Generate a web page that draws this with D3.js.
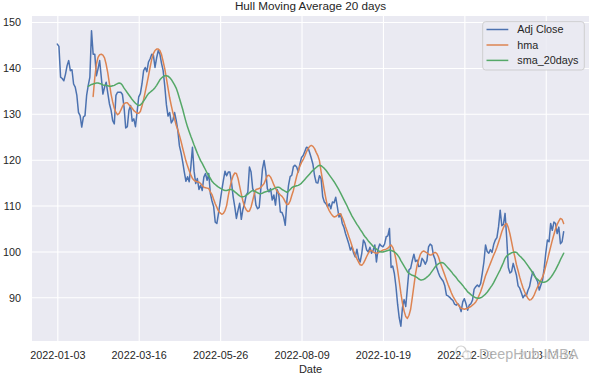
<!DOCTYPE html>
<html><head><meta charset="utf-8">
<script src="https://cdn.jsdelivr.net/npm/d3@7"></script>
<style>body{margin:0;background:#fff} text{font-family:"Liberation Sans",Arial,sans-serif}</style>
</head><body><svg id="c" width="596" height="380"></svg>
<script>
const adjClose=[
145.2,144.7,138.0,137.7,137.2,138.6,140.5,141.6,139.4,139.6,
136.5,135.8,134.0,130.3,129.6,127.1,129.3,129.6,134.0,136.2,
138.0,148.1,143.0,143.0,138.3,139.8,141.6,138.0,134.3,135.8,
136.9,134.5,132.2,130.8,128.5,127.8,134.0,134.7,134.7,134.7,
134.2,131.4,126.9,127.2,130.8,131.8,128.4,128.9,127.2,130.4,
133.7,134.4,136.5,139.4,140.1,139.2,141.3,142.0,143.0,142.8,
140.1,142.2,143.8,143.0,141.0,139.4,136.0,132.0,129.5,130.3,
128.0,128.6,130.3,128.6,126.4,123.0,121.5,119.5,117.3,115.3,
116.3,115.2,118.4,122.7,117.5,114.8,115.9,113.5,114.4,113.3,
116.2,117.0,115.5,117.0,112.6,111.0,109.8,106.4,106.1,108.3,
110.8,113.3,115.5,117.5,116.5,117.3,117.3,115.0,111.9,109.7,
107.2,109.0,110.5,107.0,109.2,110.4,112.3,112.9,118.4,117.3,
113.7,113.0,110.1,109.3,109.6,113.7,118.0,119.8,117.5,113.7,
113.0,113.7,111.2,112.3,110.1,113.5,112.5,108.6,108.5,107.5,
105.7,111.0,114.4,116.3,116.6,118.5,118.8,118.4,117.3,119.1,
120.5,120.9,121.8,122.7,122.6,121.5,120.3,119.0,116.5,115.0,
114.9,116.5,115.9,111.9,110.8,110.4,109.7,110.4,109.3,110.8,
110.6,111.8,109.7,107.5,108.2,106.1,105.3,103.9,102.8,101.7,
100.3,101.0,99.6,98.8,100.5,98.5,97.7,99.6,102.5,101.8,
100.3,99.9,100.9,99.6,100.3,101.4,97.7,100.5,101.6,101.2,
101.0,101.6,103.2,103.4,105.0,96.5,96.8,95.2,92.3,88.5,
85.5,83.7,87.8,89.5,88.0,92.0,96.0,96.3,98.0,99.4,
97.8,98.1,96.7,96.8,98.5,98.0,97.2,98.0,101.0,101.6,
101.3,99.2,98.3,96.5,95.4,94.5,94.0,93.5,92.5,90.5,
90.3,90.0,89.6,89.3,88.5,88.3,88.6,88.1,86.9,89.0,
89.7,88.6,87.2,88.3,88.6,89.4,91.8,92.3,92.7,92.3,
93.0,95.2,97.7,101.4,100.0,99.6,100.4,99.8,101.5,102.5,
103.0,105.4,109.0,105.6,105.9,108.3,103.0,96.5,95.3,95.6,
97.4,96.1,94.8,92.5,92.0,91.0,89.9,90.5,90.3,91.5,
92.3,94.1,95.6,94.8,94.1,93.4,91.6,92.7,93.7,96.3,
99.6,102.5,102.1,106.1,104.6,106.4,106.1,103.9,105.3,101.7,
102.1,104.3];

const hmaStart=22;
const hma=[
133.8,137.8,140.8,142.3,142.9,143.0,142.8,142.2,
140.8,138.9,136.6,134.3,132.6,131.2,130.3,129.8,130.1,130.8,
131.6,132.2,132.4,132.4,132.0,131.6,131.2,130.7,130.4,130.1,
130.1,130.5,131.7,133.1,134.8,136.5,138.3,140.2,141.9,143.1,
143.8,144.1,144.1,143.8,142.9,141.4,139.8,137.7,135.6,133.5,
131.8,130.2,128.9,127.5,126.5,125.3,124.0,122.5,121.1,119.7,
118.6,117.6,116.7,115.9,115.5,115.3,115.2,115.1,114.8,114.4,
114.0,113.9,113.8,113.7,113.0,112.4,111.4,110.4,109.6,108.8,
108.4,108.1,108.3,108.9,110.0,112.1,113.9,115.4,116.5,117.1,
117.0,115.9,114.2,112.5,111.0,109.8,109.1,108.7,108.8,109.7,
111.1,112.6,113.5,113.6,113.7,114.0,114.4,114.8,115.7,116.5,
116.6,116.2,115.4,114.5,113.8,113.1,112.7,112.3,112.0,111.5,
110.8,110.2,110.3,111.0,112.2,113.3,114.9,116.4,117.6,118.6,
119.4,120.0,120.8,121.7,122.4,122.9,123.1,122.9,122.4,121.6,
120.9,119.8,117.4,115.4,113.3,111.4,109.7,108.9,108.3,107.8,
107.5,107.6,107.9,108.2,108.2,107.4,106.5,105.4,104.4,103.3,
102.3,101.2,100.1,99.2,98.4,97.7,97.1,97.0,97.4,98.1,
98.9,99.6,100.2,100.2,99.9,99.7,99.6,99.7,99.9,100.1,
100.3,100.4,100.5,100.7,101.1,101.4,100.9,99.9,98.2,96.0,
93.5,90.9,88.7,87.0,85.8,85.4,86.1,87.4,89.9,92.5,
95.1,97.0,98.3,99.4,99.9,100.1,99.9,99.7,99.4,99.2,
99.3,99.6,99.8,99.6,98.9,97.8,96.8,95.8,94.8,93.8,
92.8,91.9,91.0,90.2,89.6,89.0,88.5,88.0,87.6,87.5,
87.4,87.5,87.6,87.8,88.0,88.3,88.6,89.0,89.6,90.4,
91.2,92.3,93.5,94.7,95.6,96.5,97.4,98.3,99.2,100.0,
100.9,102.0,103.1,104.3,105.2,105.9,106.1,105.2,103.8,102.1,
100.3,98.8,97.1,95.8,94.4,93.2,92.1,91.2,90.4,89.8,
89.4,89.5,89.9,90.6,91.5,92.3,93.0,93.7,94.4,95.4,
96.8,98.1,99.6,101.0,102.4,103.7,104.9,105.9,106.6,107.2,
107.0,106.1];

const smaStart=19;
const sma20=[
136.0,
136.2,136.4,136.5,136.6,136.7,136.7,136.6,136.5,136.3,136.2,
136.2,136.1,136.0,136.0,136.1,136.2,136.4,136.6,136.7,136.6,
136.2,135.6,135.1,134.6,134.1,133.6,133.1,132.7,132.3,132.0,
131.8,131.9,132.3,132.8,133.3,133.9,134.4,134.7,135.0,135.3,
135.7,136.2,136.8,137.4,137.8,138.1,138.3,138.3,138.2,137.9,
137.5,136.9,136.3,135.6,134.6,133.4,132.2,131.0,129.6,128.3,
127.1,126.1,125.1,124.2,123.2,122.3,121.4,120.6,119.8,119.2,
118.5,117.8,117.1,116.5,115.9,115.3,114.9,114.6,114.3,114.0,
113.8,113.6,113.4,113.3,113.3,113.4,113.5,113.5,113.3,113.0,
112.7,112.4,112.1,111.9,111.9,112.0,112.2,112.5,112.8,113.1,
113.3,113.2,113.0,112.8,112.6,112.6,112.7,112.9,113.0,113.1,
113.3,113.4,113.5,113.7,113.8,114.0,114.0,113.8,113.5,113.3,
113.1,112.9,113.1,113.5,113.9,114.1,114.2,114.3,114.4,114.6,
114.9,115.3,115.7,116.1,116.5,116.9,117.3,117.7,118.0,118.3,
118.6,118.8,118.7,118.4,118.1,117.7,117.2,116.7,116.2,115.7,
115.2,114.6,114.0,113.4,112.7,112.0,111.3,110.6,109.9,109.1,
108.4,107.7,107.1,106.5,105.9,105.4,104.8,104.3,103.7,103.2,
102.8,102.3,101.9,101.5,101.1,100.8,100.5,100.2,100.0,99.9,
99.9,100.0,100.1,100.2,100.3,100.2,100.1,99.9,99.6,99.2,
98.7,98.0,97.4,96.8,96.2,95.6,95.2,95.0,94.8,94.7,
94.5,94.3,94.0,93.8,93.8,93.9,94.1,94.4,94.7,95.1,
95.6,96.1,96.6,97.0,97.3,97.5,97.6,97.5,97.2,96.8,
96.4,96.0,95.6,95.1,94.7,94.3,93.8,93.4,93.0,92.6,
92.1,91.7,91.2,90.9,90.6,90.3,90.1,89.9,89.8,89.8,
89.9,90.1,90.4,90.7,91.1,91.6,92.1,92.6,93.2,93.9,
94.6,95.3,96.0,96.8,97.6,98.5,99.0,99.3,99.5,99.7,
99.8,99.9,99.8,99.4,99.0,98.7,98.3,97.9,97.4,96.9,
96.4,95.9,95.3,94.7,94.2,93.9,93.6,93.4,93.3,93.3,
93.4,93.6,93.9,94.3,94.8,95.4,96.0,96.7,97.4,98.2,
98.9,99.6];

const xTickIdx=[0,50,100,150,200,250,300];
const xTickLabels=["2022-01-03","2022-03-16","2022-05-26","2022-08-09","2022-10-19","2022-12-30","2023-03-15"];
const yTicks=[90,100,110,120,130,140,150];
const seriesNames=["Adj Close","hma","sma_20days"];
const seriesColors=["#4c72b0","#dd8452","#55a868"];

const svg=d3.select("#c");
const L=32,R=589,T=16,B=341;
const n=adjClose.length;
const xpad=(n-1)*0.05;
const x=d3.scaleLinear().domain([-xpad,n-1+xpad]).range([L,R]);
const all=adjClose.concat(hma,sma20);
const [mn,mx]=d3.extent(all);
const yp=(mx-mn)*0.05;
const y=d3.scaleLinear().domain([mn-yp,mx+yp]).range([B,T]);

svg.append("rect").attr("x",L).attr("y",T).attr("width",R-L).attr("height",B-T).attr("fill","#eaeaf2");
svg.append("defs").append("clipPath").attr("id","clip").append("rect").attr("x",L).attr("y",T).attr("width",R-L).attr("height",B-T);

const gx=svg.append("g").attr("transform",`translate(0,${B})`)
 .call(d3.axisBottom(x).tickValues(xTickIdx).tickFormat((d,i)=>xTickLabels[i]).tickSize(-(B-T)).tickPadding(10));
const gy=svg.append("g").attr("transform",`translate(${L},0)`)
 .call(d3.axisLeft(y).tickValues(yTicks).tickSize(-(R-L)).tickPadding(11));
[gx,gy].forEach(g=>{
 g.select(".domain").remove();
 g.selectAll(".tick line").attr("stroke","#fff").attr("stroke-width",1.1);
 g.selectAll(".tick text").attr("fill","#262626").style("font-size","10.8px").style("font-family","'Liberation Sans',Arial,sans-serif");
});
gy.selectAll(".tick text").attr("dy","0.36em");

const plot=svg.append("g").attr("clip-path","url(#clip)");
const line=d3.line().x(d=>x(d[0])).y(d=>y(d[1]));
const sets=[adjClose.map((v,i)=>[i,v]), hma.map((v,i)=>[i+hmaStart,v]), sma20.map((v,i)=>[i+smaStart,v])];
sets.forEach((s,k)=>{
 plot.append("path").datum(s).attr("d",line).attr("fill","none")
  .attr("stroke",seriesColors[k]).attr("stroke-width",1.5).attr("stroke-linejoin","round").attr("stroke-linecap","round");
});

svg.append("text").attr("x",(L+R)/2).attr("y",10).attr("text-anchor","middle")
 .attr("fill","#262626").style("font-size","11.7px").text("Hull Moving Average 20 days");
svg.append("text").attr("x",(L+R)/2).attr("y",373).attr("text-anchor","middle")
 .attr("fill","#262626").style("font-size","11px").text("Date");

// legend
const lg=svg.append("g");
lg.append("rect").attr("x",482.7).attr("y",21.7).attr("width",101.6).attr("height",48.3).attr("rx",3)
 .attr("fill","#eaeaf2").attr("fill-opacity",0.85).attr("stroke","#cccccc").attr("stroke-width",0.9);
const rowY=[29.5,45,60.4];
seriesNames.forEach((nm,k)=>{
 lg.append("line").attr("x1",486.5).attr("x2",508.3).attr("y1",rowY[k]).attr("y2",rowY[k])
  .attr("stroke",seriesColors[k]).attr("stroke-width",1.5);
 lg.append("text").attr("x",517.3).attr("y",rowY[k]+3.9).attr("fill","#262626").style("font-size","10.8px").text(nm);
});

// watermark overlay
const wm=svg.append("g").attr("opacity",0.85);
wm.append("circle").attr("cx",461).attr("cy",351).attr("r",5).attr("fill","none").attr("stroke","#c8c8c8").attr("stroke-width",1.2);
wm.append("circle").attr("cx",467).attr("cy",355).attr("r",4.2).attr("fill","#fff").attr("stroke","#c8c8c8").attr("stroke-width",1.2);
wm.append("text").attr("x",479).attr("y",359).style("font-size","14.3px")
 .attr("fill","#a8a8a8").attr("stroke","#ffffff").attr("stroke-width",2.5).attr("paint-order","stroke").text("DeepHub IMBA");
</script></body></html>
